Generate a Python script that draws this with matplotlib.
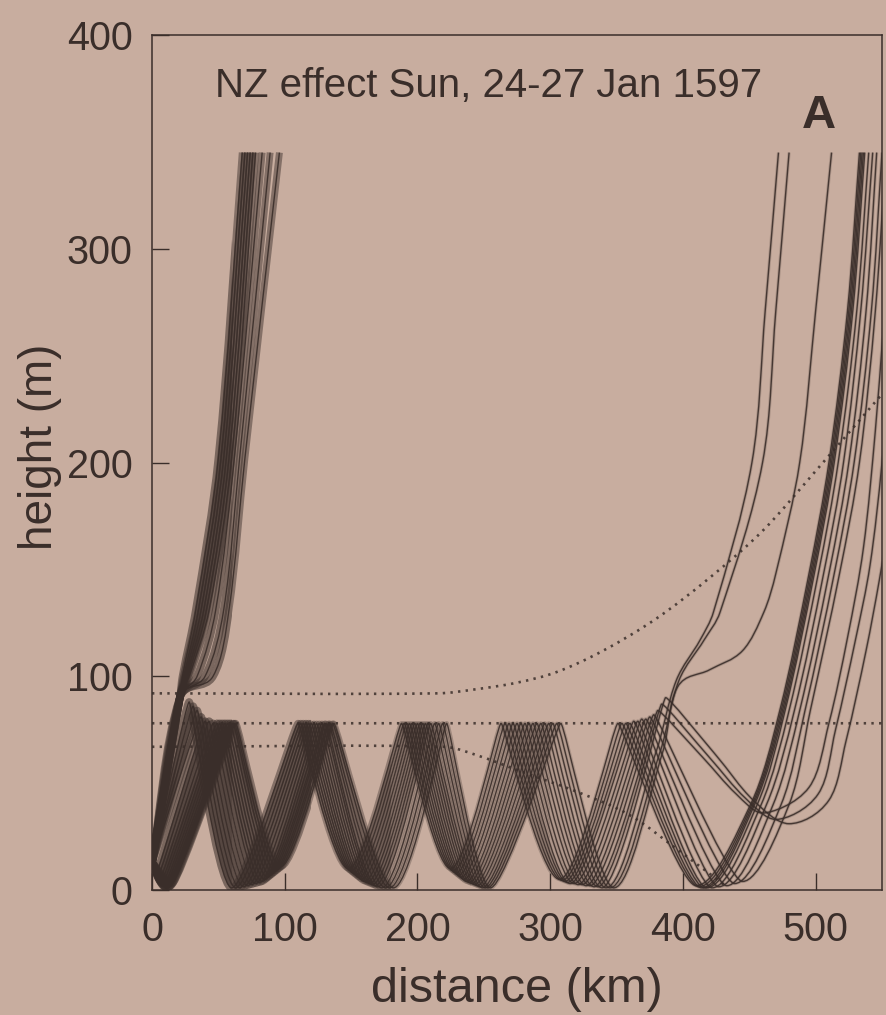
import numpy as np
import matplotlib
matplotlib.use("Agg")
import matplotlib.pyplot as plt
from matplotlib.path import Path
from matplotlib.patches import PathPatch, Rectangle

plt.rcParams['font.family'] = ['Liberation Sans', 'DejaVu Sans']

BG = '#c8ad9f'
INK = '#3a2e2a'

# ---------------- data ----------------
x_ticks = [0, 100, 200, 300, 400, 500]
y_ticks = [0, 100, 200, 300, 400]
title_text = 'NZ effect Sun, 24-27 Jan 1597'
panel_label = 'A'

# dotted reference levels (distance km, height m)
top_dot_x = [0, 215, 245, 275, 305, 340, 380, 420, 460, 500, 550]
top_dot_y = [92, 92, 94, 97, 102, 112, 127, 146, 168, 196, 232]
mid_dot_x = [0, 550]
mid_dot_y = [78, 78]
low_dot_x = [0, 220, 245, 280, 320, 360, 400, 432]
low_dot_y = [67, 67, 63, 55, 46, 35, 17, 2]

# source of all rays
src_x, src_y = 0, 13

# ducted rays: turning points (cusps at top of duct, troughs near ground)
t0_x = [np.nan, np.nan, np.nan, np.nan, 4, 5, 6, 7, 8, 9, 10, 11, 12, 13, 14, 15]
t0_y = [np.nan, np.nan, np.nan, np.nan, 9, 7, 5, 4, 3, 2, 1.5, 1, 1, 1.5, 2, 3]
c1_x = [28, 31, 34, 37, 40, 43, 46, 49, 51, 53, 55, 57, 59, 61, 62, 63]
c1_y = [88, 86, 84, 81, 79, 79, 78, 78, 78, 78, 78, 78, 78, 78, 78, 78]
t1_x = [60, 63, 66, 69, 72, 75, 78, 81, 83, 85, 87, 89, 91, 93, 95, 97]
t1_y = [1, 1, 1, 1.5, 2, 2.5, 3, 3.5, 4, 5, 6, 7, 8, 9, 10, 11]
c2_x = [110, 112, 114, 116, 118, 120, 122, 124, 126, 128, 130, 131, 133, 134, 136, 137]
t2_x = [148, 150, 152, 154, 156, 158, 160, 162, 164, 166, 168, 170, 173, 176, 179, 182]
t2_y = [10, 9, 8, 7, 6, 5, 4, 3.5, 3, 2.5, 2, 1.5, 1, 1, 1, 1]
c3_x = [188, 190, 192, 194, 196, 198, 200, 202, 204, 206, 208, 210, 213, 216, 219, 222]
t3_x = [225, 227, 229, 231, 233, 235, 237, 239, 241, 243, 245, 247, 249, 251, 253, 255]
t3_y = [10, 9, 8, 7, 6, 5, 4, 3.5, 3, 2.5, 2, 1.5, 1, 1, 1, 1]
c4_x = [263, 266, 269, 272, 275, 278, 281, 284, 287, 290, 293, 296, 299, 302, 305, 308]
t4_x = [307, 309, 311, 313, 315, 318, 321, 324, 327, 330, 333, 336, 339, 342, 345, 348]
t4_y = [5, 4.5, 4, 3.5, 3, 3, 2.5, 2.5, 2, 2, 1.5, 1.5, 1, 1, 1, 1]
c5_x = [351, 354, 357, 360, 363, 366, 369, 372, 375, 378, 381, 384, 387]
c5_y = [78, 78, 78, 78, 79, 79, 80, 80, 81, 82, 84, 87, 90]
duct_top = 78

# rays 0-9: deep trough after 5th cusp, then steep climb (right bundle)
t5_x = [410, 412, 414, 416, 418, 422, 427, 433, 439, 445]
t5_y = [2, 1.5, 1, 1, 1, 1, 1.5, 2, 3, 4]
climb_levels = [40, 84, 148, 200, 271, 345]
climb_x = [
    [451, 473, 495, 510, 524, 533],
    [452, 474, 496, 511, 525, 534],
    [453, 475, 497, 512, 526, 535],
    [454, 476, 498, 513, 527, 536],
    [456, 477, 499, 514, 528, 537],
    [459, 480, 502, 517, 531, 540],
    [463, 484, 506, 521, 534, 543],
    [468, 488, 510, 525, 538, 546],
    [474, 492, 514, 529, 542, 550],
    [480, 496, 518, 533, 545, 553],
]

# rays 10-12: gentle descent to a shallow trough, then climb out of the right edge
gentle_x = [
    [415, 440, 460, 495, 510, 524, 536, 545, 551],
    [420, 447, 470, 502, 515, 530, 541, 550, 556],
    [425, 453, 480, 510, 523, 538, 548, 556, 560],
]
gentle_y = [
    [62, 45, 36, 48, 78, 118, 160, 215, 263],
    [62, 43, 33, 45, 75, 117, 152, 200, 250],
    [63, 42, 31, 42, 70, 112, 145, 175, 190],
]
gentle_trough_index = [2, 2, 2]

# rays 13-15: break through the duct near 390 km and escape upward
upper_x = [
    [380, 395, 413, 423, 452, 462, 472],
    [383, 397, 416, 428, 460, 470, 480],
    [385, 396, 420, 445, 461, 470, 488, 500, 512],
]
upper_y = [
    [65, 98, 117, 130, 200, 271, 345],
    [65, 98, 117, 130, 200, 271, 345],
    [65, 95, 103, 112, 130, 148, 200, 271, 345],
]

# rays escaping immediately near the source (left bundle)
esc_levels = [13, 90, 100, 131, 202, 345]
esc_x = [
    [0, 21, 23, 33, 50, 68],
    [0, 21, 24, 35, 52, 70],
    [0, 21, 25, 37, 54, 72],
    [0, 21, 26, 39, 56, 74],
    [0, 21, 27, 41, 58, 76],
    [0, 21, 28, 43, 60, 78],
    [0, 21, 34, 48, 62, 83],
    [0, 21, 40, 54, 66, 89],
    [0, 21, 46, 58, 70, 96],
]


# ---------------- drawing helpers ----------------
def smooth_path(xs, ys, kinds):
    """Cubic Bezier path through the given points.
    kinds: 'c' corner, 'r' rounded crest, 'h' horizontal tangent (trough), 's' smooth."""
    p = np.column_stack([xs, ys]).astype(float)
    n = len(p)
    m_in = np.zeros_like(p)
    m_out = np.zeros_like(p)
    for i in range(n):
        k = kinds[i]
        if i == 0:
            m_in[i] = m_out[i] = p[1] - p[0]
        elif i == n - 1:
            m_in[i] = m_out[i] = p[i] - p[i - 1]
        elif k == 'c':
            m_in[i] = p[i] - p[i - 1]
            m_out[i] = p[i + 1] - p[i]
        elif k in ('h', 'r'):
            dx = min(p[i, 0] - p[i - 1, 0], p[i + 1, 0] - p[i, 0])
            f = 1.0 if k == 'h' else 0.22
            m_in[i] = m_out[i] = [f * dx, 0.0]
        else:
            d = p[i + 1] - p[i - 1]
            d = d / np.hypot(*d)
            m_in[i] = d * np.hypot(*(p[i] - p[i - 1]))
            m_out[i] = d * np.hypot(*(p[i + 1] - p[i]))
    verts = [p[0]]
    codes = [Path.MOVETO]
    for i in range(n - 1):
        verts += [p[i] + m_out[i] / 3.0, p[i + 1] - m_in[i + 1] / 3.0, p[i + 1]]
        codes += [Path.CURVE4] * 3
    return Path(verts, codes)


fig = plt.figure(figsize=(8.86, 10.15), dpi=100)
fig.patch.set_facecolor(BG)
ax = fig.add_axes([152 / 886, 1 - 890 / 1015, (882 - 152) / 886, (890 - 35) / 1015])
ax.set_facecolor(BG)
ax.set_xlim(0, 550)
ax.set_ylim(0, 400)

# darkening of the dense ray bundles: (x from, x to, halo width, halo alpha)
HALO_ZONES = [(0, 60, 5.5, 0.55), (60, 120, 5.0, 0.48), (120, 180, 4.0, 0.38),
              (180, 240, 3.3, 0.29), (240, 300, 3.0, 0.25), (300, 380, 2.6, 0.21),
              (380, 550, 2.3, 0.2)]


def add_ray(xs, ys, kinds):
    path = smooth_path(xs, ys, kinds)
    ax.add_patch(PathPatch(path, fill=False, edgecolor=INK, lw=1.0, alpha=0.9,
                           capstyle='butt', joinstyle='round'))
    for x0, x1, lw, a in HALO_ZONES:
        pp = PathPatch(path, fill=False, edgecolor=INK, lw=lw, alpha=a,
                       capstyle='butt', joinstyle='round')
        ax.add_patch(pp)
        pp.set_clip_path(Rectangle((x0, 0), x1 - x0, 400, transform=ax.transData))


# dotted levels
dot_kw = dict(fill=False, edgecolor=INK, lw=1.9, linestyle=(0, (0.9, 2.0)), alpha=0.85)
for dx_, dy_ in [(top_dot_x, top_dot_y), (mid_dot_x, mid_dot_y), (low_dot_x, low_dot_y)]:
    ax.add_patch(PathPatch(smooth_path(dx_, dy_, ['s'] * len(dx_)), **dot_kw))

# escaping rays near the source
for row in esc_x:
    add_ray(row, esc_levels, ['c'] + ['s'] * (len(row) - 1))

# ducted rays
n_rays = len(c1_x)
for i in range(n_rays):
    xs, ys, ks = [src_x], [src_y], ['c']
    if not np.isnan(t0_x[i]):
        xs.append(t0_x[i]); ys.append(t0_y[i]); ks.append('h')
    xs += [c1_x[i], t1_x[i], c2_x[i], t2_x[i], c3_x[i], t3_x[i], c4_x[i], t4_x[i]]
    ys += [c1_y[i], t1_y[i], duct_top, t2_y[i], duct_top, t3_y[i], duct_top, t4_y[i]]
    ks += ['r', 'h', 'r', 'h', 'r', 'h', 'r', 'h']
    if i < len(t5_x):
        xs += [c5_x[i], t5_x[i]] + climb_x[i]
        ys += [c5_y[i], t5_y[i]] + climb_levels
        ks += ['r', 'h'] + ['s'] * len(climb_x[i])
    elif i < len(c5_x):
        j = i - len(t5_x)
        xs += [c5_x[i]] + gentle_x[j]
        ys += [c5_y[i]] + gentle_y[j]
        gk = ['s'] * len(gentle_x[j])
        gk[gentle_trough_index[j]] = 'h'
        ks += ['r'] + gk
    else:
        j = i - len(c5_x)
        xs += upper_x[j]
        ys += upper_y[j]
        ks += ['s'] * len(upper_x[j])
    add_ray(xs, ys, ks)

# axes styling
for s in ax.spines.values():
    s.set_color(INK)
    s.set_linewidth(1.1)
ax.set_xticks(x_ticks)
ax.set_yticks(y_ticks)
ax.tick_params(direction='in', length=12, width=1.0, color=INK, labelcolor=INK,
               labelsize=28.5)
ax.tick_params(axis='x', pad=15)
ax.tick_params(axis='y', pad=14)

fig.text(215 / 886, 1 - 97 / 1015, title_text, fontsize=29, color=INK, va='baseline')
fig.text(802 / 886, 1 - 128 / 1015, panel_label, fontsize=34, fontweight='bold',
         color=INK, va='baseline')
fig.text(40 / 886, 1 - 447 / 1015, 'height (m)', rotation=90, ha='center', va='center',
         fontsize=33, color=INK)
fig.text(517 / 886, 1 - 1002 / 1015, 'distance (km)', ha='center', va='baseline',
         fontsize=35, color=INK)

fig.savefig('out.png', dpi=100, facecolor=BG)
